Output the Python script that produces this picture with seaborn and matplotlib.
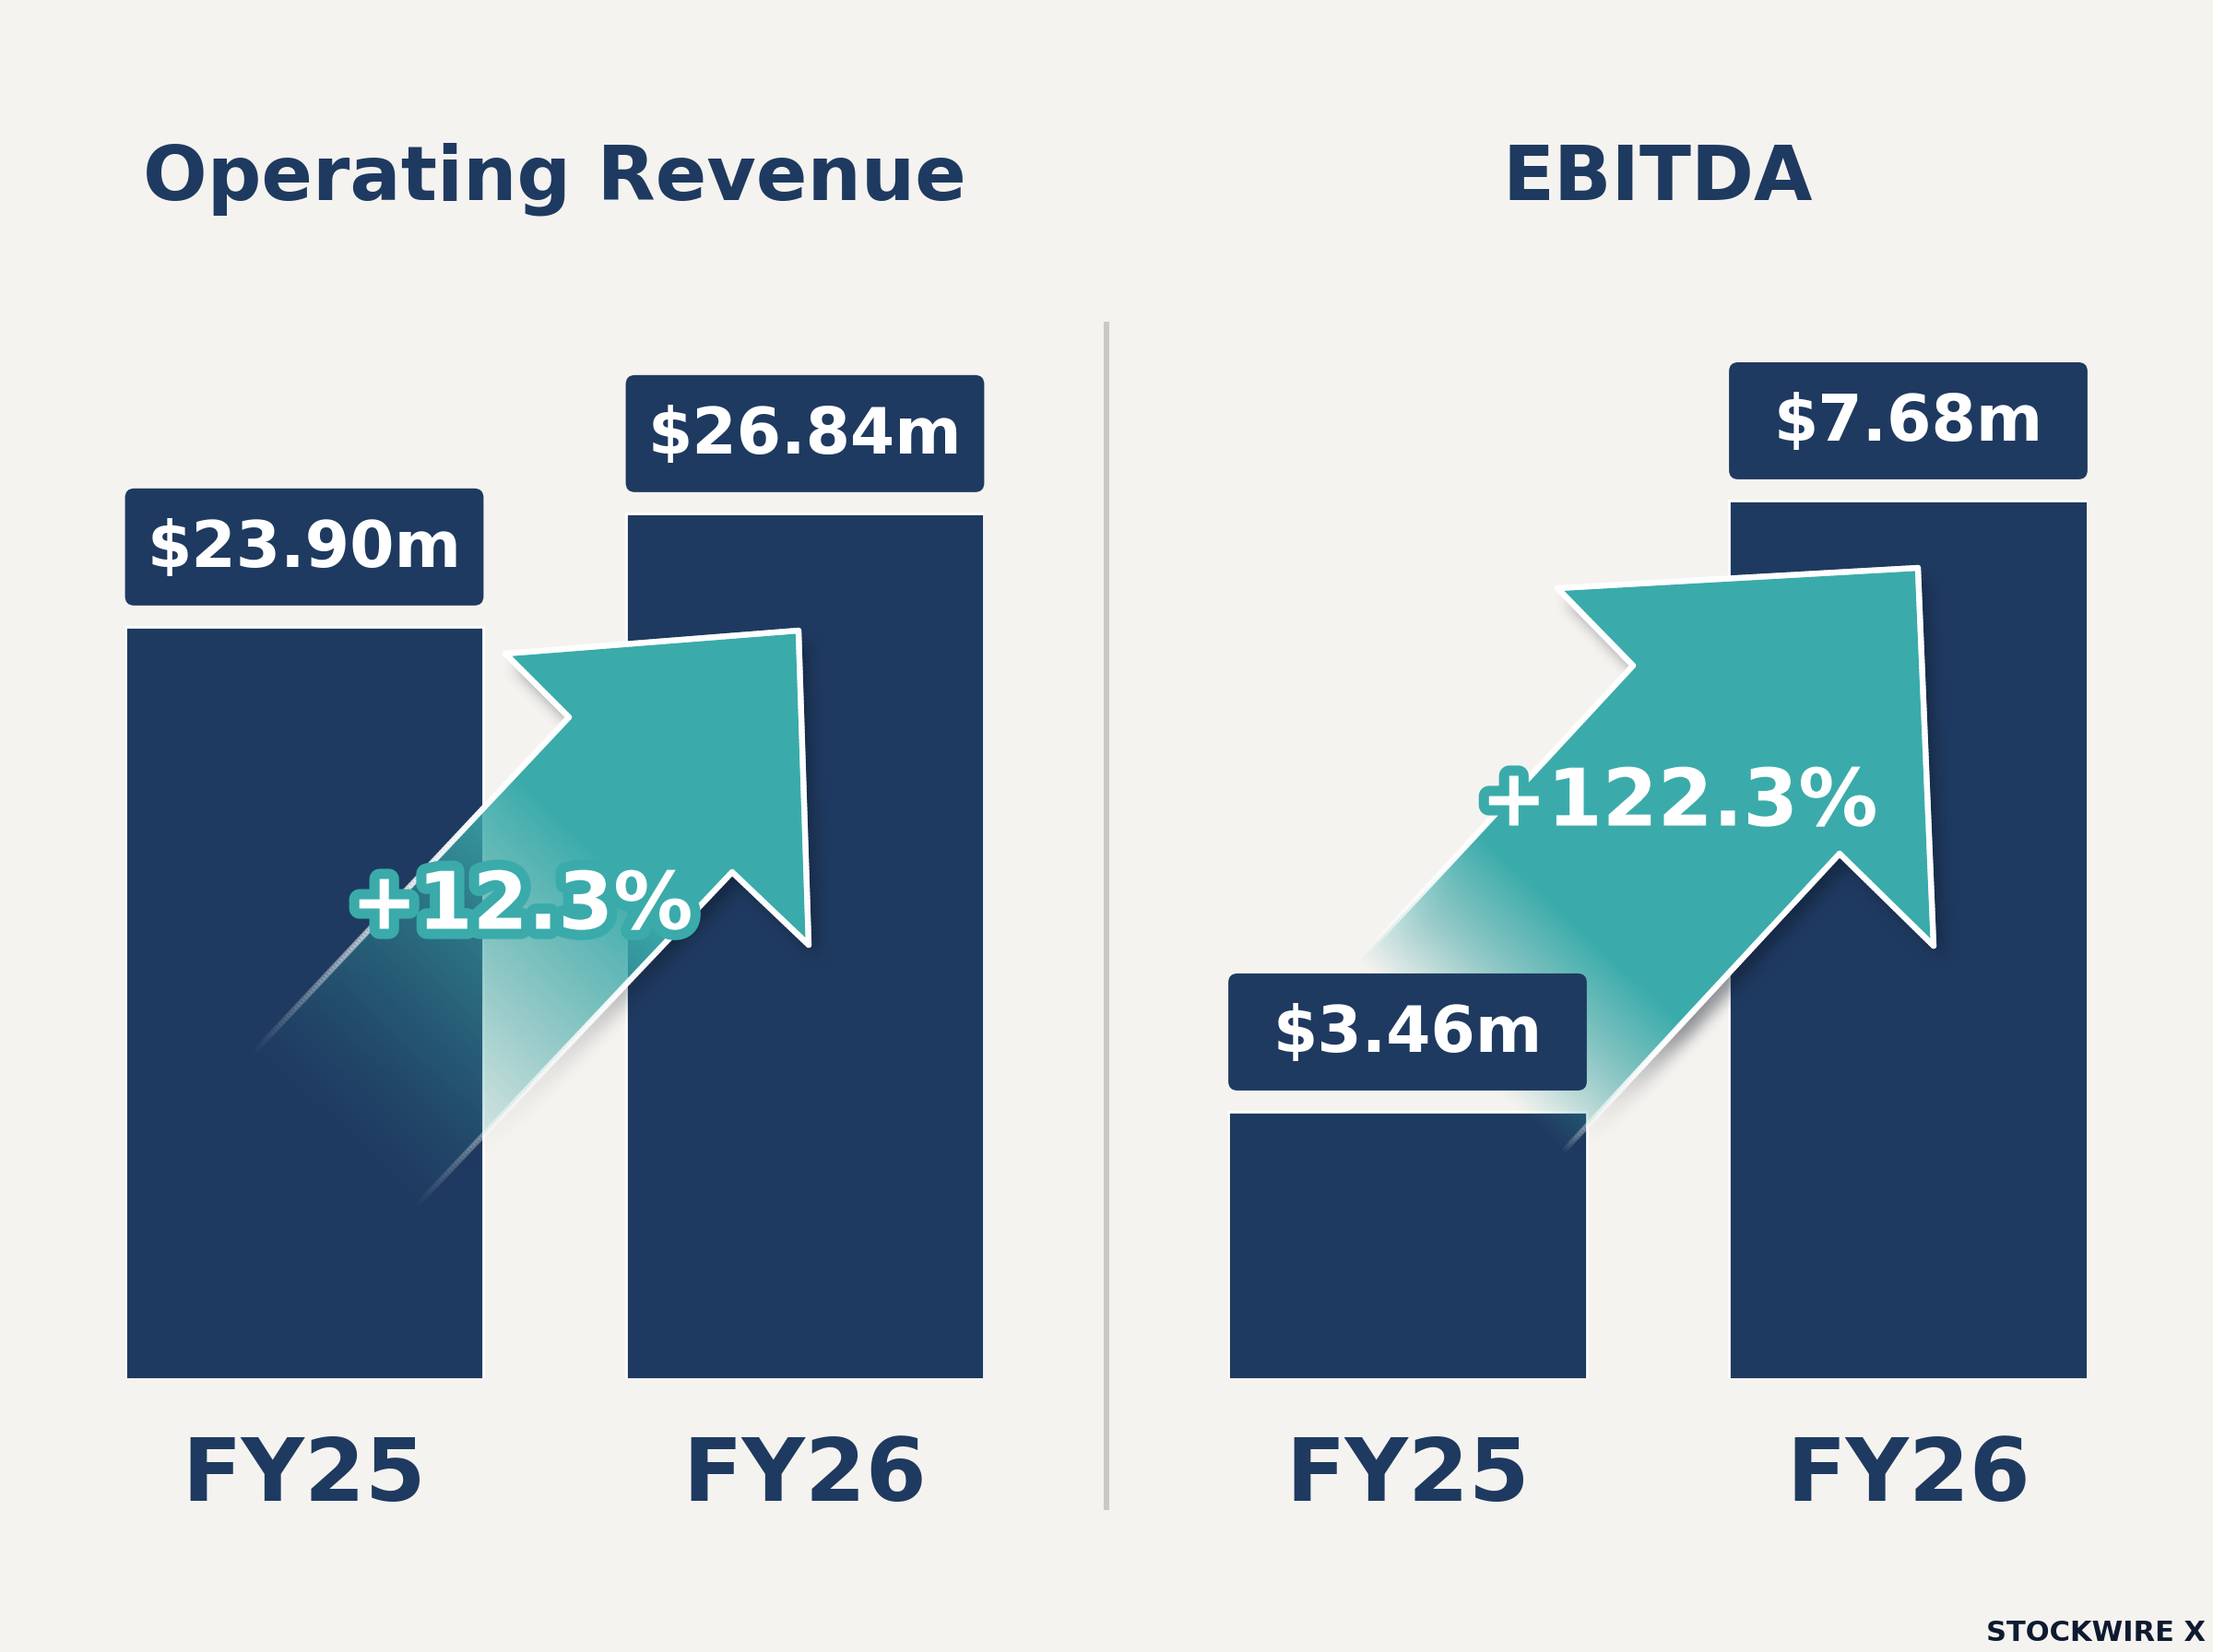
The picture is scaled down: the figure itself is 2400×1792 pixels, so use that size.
import numpy as np
import matplotlib
matplotlib.use("Agg")
import matplotlib.pyplot as plt
import matplotlib.patheffects as pe
from matplotlib.patches import FancyBboxPatch, Polygon
from matplotlib.path import Path
from matplotlib.collections import LineCollection
import seaborn as sns

# --- data ---
years = ["FY25", "FY26"]
revenue = [23.90, 26.84]
ebitda = [3.46, 7.68]
panel_titles = ["Operating Revenue", "EBITDA"]
growth_pct = [12.3, 122.3]

NAVY = "#1F3A60"
TEAL = "#3AABAA"
BG = "#F5F3EF"
W, H, DPI = 2400, 1792, 200

sns.set_theme(style="white")
plt.rcParams['font.family'] = ['DejaVu Sans']

fig = plt.figure(figsize=(W / DPI, H / DPI), dpi=DPI, facecolor=BG)

# overlay in pixel coordinates (y down) for the decorations
ov = fig.add_axes([0, 0, 1, 1], zorder=5)
ov.set_xlim(0, W)
ov.set_ylim(H, 0)
ov.axis("off")
ov.patch.set_alpha(0)


def to_ov(ax, x, y):
    d = ax.transData.transform((x, y))
    return ov.transData.inverted().transform(d)


def box_blur(a, r, passes=2):
    k = np.ones(2 * r + 1) / (2 * r + 1)
    for _ in range(passes):
        a = np.apply_along_axis(lambda m: np.convolve(m, k, mode="same"), 0, a)
        a = np.apply_along_axis(lambda m: np.convolve(m, k, mode="same"), 1, a)
    return a


def draw_arrow(pts, a0, flen, gamma=1.0):
    pts = np.array(pts, float)
    tail_mid = (pts[0] + pts[-1]) / 2
    u = pts[1] - pts[0]
    u = u / np.hypot(*u)

    def ramp(x, y):
        s = (x - tail_mid[0]) * u[0] + (y - tail_mid[1]) * u[1]
        return np.clip((s - a0) / flen, 0, 1) ** gamma

    m = 70
    x0, y0 = pts.min(axis=0) - m
    x1, y1 = pts.max(axis=0) + m
    xs = np.arange(x0, x1)
    ys = np.arange(y0, y1)
    X, Y = np.meshgrid(xs, ys)
    A = ramp(X, Y)

    # soft drop shadow
    mask = Path(pts).contains_points(np.c_[X.ravel(), Y.ravel()]).reshape(X.shape).astype(float)
    sh = box_blur(mask * A ** 2, 9)
    sh = np.roll(np.roll(sh, 12, axis=0), 9, axis=1)
    sh = sh * (1 - mask * A) * 0.45
    img_sh = np.zeros(X.shape + (4,))
    img_sh[..., :3] = matplotlib.colors.to_rgb("#0B1526")
    img_sh[..., 3] = sh
    ov.imshow(img_sh, extent=(x0, x1, y1, y0), origin="upper", zorder=1.5,
              interpolation="bilinear", aspect="auto")

    # gradient fill clipped to arrow shape
    img = np.zeros(X.shape + (4,))
    img[..., :3] = matplotlib.colors.to_rgb(TEAL)
    img[..., 3] = A
    im = ov.imshow(img, extent=(x0, x1, y1, y0), origin="upper", zorder=2,
                   interpolation="bilinear", aspect="auto")
    clip = Polygon(pts, closed=True, transform=ov.transData)
    im.set_clip_path(clip)

    # white outline fading with the tail
    segs, cols = [], []
    for p, q in zip(pts[:-1], pts[1:]):
        n = max(int(np.hypot(*(q - p)) / 4), 1)
        t = np.linspace(0, 1, n + 1)
        line = p + (q - p) * t[:, None]
        for a, b in zip(line[:-1], line[1:]):
            mid = (a + b) / 2
            segs.append([a, b])
            cols.append((1, 1, 1, float(ramp(mid[0], mid[1]))))
    ov.add_collection(LineCollection(segs, colors=cols, linewidths=2.3,
                                     capstyle="round", zorder=3))
    ov.set_xlim(0, W)
    ov.set_ylim(H, 0)


# --- bar panels ---
panels = [
    (revenue, panel_titles[0], 135.6, (4.41, 30.59)),
    (ebitda, panel_titles[1], 1332.1, (1.62, 8.59)),
]
axes = []
for vals, title, left_px, ylim in panels:
    ax = fig.add_axes([left_px / W, 297 / H, 931.8 / W, 1095 / H], zorder=1)
    sns.barplot(x=years, y=vals, color=NAVY, saturation=1, width=0.716, ax=ax)
    ax.set_xlim(-0.358, 1.358)
    ax.set_ylim(*ylim)
    ax.set_facecolor("none")
    ax.set_yticks([])
    ax.set_xlabel("")
    ax.set_ylabel("")
    sns.despine(ax=ax, left=True, bottom=True)
    ax.tick_params(axis="x", length=0, pad=22, labelsize=34, labelcolor=NAVY)
    for lbl in ax.get_xticklabels():
        lbl.set_fontweight("bold")
    ax.set_title(title, pad=66, fontsize=29.5, fontweight="bold", color=NAVY)
    axes.append(ax)

    # value boxes above each bar
    for bar, v in zip(ax.patches, vals):
        xl, top = to_ov(ax, bar.get_x(), bar.get_height())
        xr, _ = to_ov(ax, bar.get_x() + bar.get_width(), bar.get_height())
        bh = 127
        by = top - 23 - bh
        ov.add_patch(FancyBboxPatch((xl, by), xr - xl, bh,
                                    boxstyle="round,pad=0,rounding_size=10",
                                    fc=NAVY, ec="none", zorder=4))
        ov.text((xl + xr) / 2, by + bh / 2 + 2, f"${v:.2f}m", color="white",
                fontsize=25, fontweight="bold", ha="center", va="center", zorder=5)

# growth arrows
draw_arrow([(272, 1145), (617, 778), (548, 709), (866, 684), (877, 1025),
            (794, 946), (444, 1316)], a0=0, flen=420, gamma=1.3)
draw_arrow([(1465, 1052), (1771, 722), (1689, 638), (2080, 616), (2097, 1026),
            (1995, 926), (1689, 1256)], a0=10, flen=190)

for (cx, cy), g in zip([(566, 984), (1821, 872)], growth_pct):
    ov.text(cx, cy, f"+{g:.1f}%", color="white", fontsize=31, fontweight="bold",
            ha="center", va="center", zorder=6,
            path_effects=[pe.withStroke(linewidth=8, foreground=TEAL)])

# divider and watermark
ov.plot([1200, 1200], [349, 1638], color="#CBC8C5", lw=2.2, zorder=1,
        solid_capstyle="butt")
ov.text(2392, 1771, "STOCKWIRE X", color="#0E1A30", fontsize=11,
        fontweight="bold", ha="right", va="center", zorder=6)

fig.savefig("out.png", dpi=DPI, facecolor=BG)
